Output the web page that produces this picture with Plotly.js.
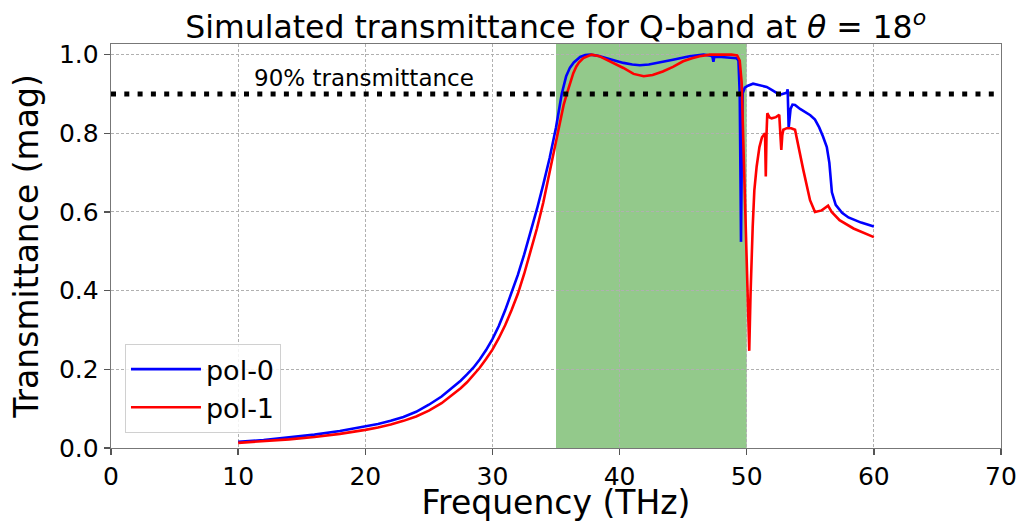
<!DOCTYPE html>
<html>
<head>
<meta charset="utf-8">
<script src="https://cdn.plot.ly/plotly-3.0.1.min.js"></script>
<style>html,body{margin:0;padding:0;background:#fff;}#chart{width:1028px;height:522px;}</style>
</head>
<body>
<div id="chart"></div>
<script>
// Frequency (THz) and transmittance for pol-0
const pol0Freq = [10,12,14,16,18,20,21,22,23,24,25,26,27,27.5,28,28.5,29,29.5,30,30.5,31,31.5,32,32.5,33,33.5,34,34.5,35,35.45,35.8,36.1,36.4,36.9,37.3,37.7,38.3,39.0,39.6,40.3,41.0,41.6,42.3,43.0,44.2,45.5,46.6,47.2,47.3,47.38,47.45,48.0,48.7,49.2,49.35,49.45,49.52,49.55,49.6,49.68,49.85,50.1,50.5,51.0,51.57,52.0,52.6,53.15,53.22,53.3,53.45,53.6,53.8,54.2,54.7,55.0,55.37,55.7,56.0,56.3,56.5,56.7,57.0,57.5,58.0,59.0,60.0];
const pol0T = [0.016,0.020,0.027,0.034,0.043,0.054,0.061,0.069,0.079,0.092,0.110,0.131,0.157,0.171,0.187,0.204,0.225,0.249,0.277,0.310,0.350,0.393,0.440,0.492,0.548,0.607,0.670,0.737,0.815,0.900,0.945,0.967,0.980,0.994,0.999,1.000,0.997,0.991,0.985,0.979,0.975,0.973,0.975,0.979,0.987,0.996,1.000,0.997,0.995,0.982,0.994,0.994,0.992,0.991,0.985,0.900,0.650,0.524,0.700,0.902,0.916,0.921,0.926,0.923,0.918,0.910,0.898,0.903,0.912,0.813,0.862,0.873,0.872,0.862,0.852,0.846,0.835,0.815,0.792,0.765,0.725,0.650,0.618,0.598,0.586,0.573,0.563];

// Frequency (THz) and transmittance for pol-1
const pol1Freq = [10,12,14,16,18,20,21,22,23,24,25,26,27,27.5,28,28.5,29,29.5,30,30.5,31,31.5,32,32.5,33,33.5,34,34.5,35,35.3,35.6,35.85,36.1,36.36,36.6,36.8,37.15,37.5,37.8,38.4,39.0,39.7,40.3,41.1,41.9,42.6,43.4,44.2,45.0,45.7,46.3,47.1,48.0,48.8,49.25,49.45,49.6,49.7,49.8,49.9,49.99,50.1,50.2,50.3,50.4,50.47,50.6,50.78,51.0,51.2,51.44,51.5,51.56,51.62,51.8,51.96,52.3,52.56,52.66,52.72,52.8,52.88,53.15,53.5,53.8,54.06,54.45,54.98,55.37,55.9,56.4,56.68,57.3,58.4,59.2,60.0];
const pol1T = [0.013,0.017,0.022,0.028,0.036,0.046,0.052,0.060,0.069,0.080,0.095,0.114,0.138,0.152,0.167,0.185,0.204,0.226,0.250,0.279,0.312,0.350,0.392,0.443,0.498,0.558,0.624,0.700,0.780,0.830,0.872,0.900,0.925,0.953,0.970,0.980,0.991,0.997,1.000,0.996,0.987,0.976,0.966,0.951,0.945,0.948,0.957,0.969,0.983,0.991,0.996,1.000,1.000,1.000,0.998,0.985,0.930,0.820,0.733,0.600,0.478,0.340,0.247,0.390,0.500,0.562,0.655,0.715,0.765,0.790,0.800,0.690,0.800,0.851,0.840,0.838,0.841,0.847,0.790,0.758,0.795,0.809,0.813,0.813,0.809,0.766,0.707,0.630,0.600,0.604,0.616,0.600,0.579,0.558,0.546,0.536];

// 90% transmittance reference line
const thresholdFreq = [0, 70];
const thresholdT = [0.9, 0.9];

// Q-band highlighted range (THz)
const bandRange = [35, 50];

const xTicks = [0,10,20,30,40,50,60,70];
const yTicks = [0.0,0.2,0.4,0.6,0.8,1.0];
const yTickText = ['0.0','0.2','0.4','0.6','0.8','1.0'];

const FONT = 'DejaVu Sans, Verdana, sans-serif';

const traces = [
  {x: pol0Freq, y: pol0T, type: 'scatter', mode: 'lines', name: 'pol-0',
   line: {color: '#0000ff', width: 2.6}, hoverinfo: 'skip'},
  {x: pol1Freq, y: pol1T, type: 'scatter', mode: 'lines', name: 'pol-1',
   line: {color: '#ff0000', width: 2.6}, hoverinfo: 'skip'},
  {x: thresholdFreq, y: thresholdT, type: 'scatter', mode: 'lines', showlegend: false,
   line: {color: '#000000', width: 5, dash: '5px,8.3px'}, hoverinfo: 'skip'}
];

const axisCommon = {
  showline: true, mirror: true, linecolor: '#777777', linewidth: 1.3,
  ticks: 'outside', ticklen: 6, tickwidth: 1.3, tickcolor: '#555555',
  showgrid: true, gridcolor: '#b0b0b0', gridwidth: 1, griddash: '3px,2px',
  zeroline: false, tickfont: {family: FONT, size: 25, color: '#000'}
};

const layout = {
  width: 1028, height: 522,
  margin: {l: 111, r: 27, t: 44, b: 74},
  paper_bgcolor: '#ffffff', plot_bgcolor: '#ffffff',
  font: {family: FONT, color: '#000'},
  title: {
    text: 'Simulated transmittance for Q-band at <i>θ</i> = 18<sup><i>o</i></sup>',
    font: {family: FONT, size: 31.5, color: '#000'},
    x: 0.5406, xref: 'container', xanchor: 'center',
    y: 0.948, yref: 'container', yanchor: 'middle'
  },
  xaxis: Object.assign({}, axisCommon, {
    range: [0, 70], tickvals: xTicks,
    title: {text: 'Frequency (THz)', font: {family: FONT, size: 33, color: '#000'}, standoff: 8}
  }),
  yaxis: Object.assign({}, axisCommon, {
    range: [0, 1.027], tickvals: yTicks, ticktext: yTickText,
    title: {text: 'Transmittance (mag)', font: {family: FONT, size: 33, color: '#000'}, standoff: 10}
  }),
  shapes: [{
    type: 'rect', xref: 'x', yref: 'paper', x0: bandRange[0], x1: bandRange[1], y0: 0, y1: 1,
    fillcolor: '#93c98b', line: {width: 0}, layer: 'below'
  }],
  annotations: [{
    x: 11.1, y: 0.94, xref: 'x', yref: 'y', xanchor: 'left', yanchor: 'middle',
    text: '90% transmittance', showarrow: false,
    font: {family: FONT, size: 23, color: '#000'}
  }],
  legend: {
    x: 0.0157, y: 0.037, xanchor: 'left', yanchor: 'bottom',
    bgcolor: 'rgba(255,255,255,0.85)', bordercolor: '#d0d0d0', borderwidth: 1,
    font: {family: FONT, size: 27, color: '#000'},
    itemwidth: 70
  },
  showlegend: true
};

Plotly.newPlot('chart', traces, layout, {staticPlot: true, displayModeBar: false});
</script>
</body>
</html>
